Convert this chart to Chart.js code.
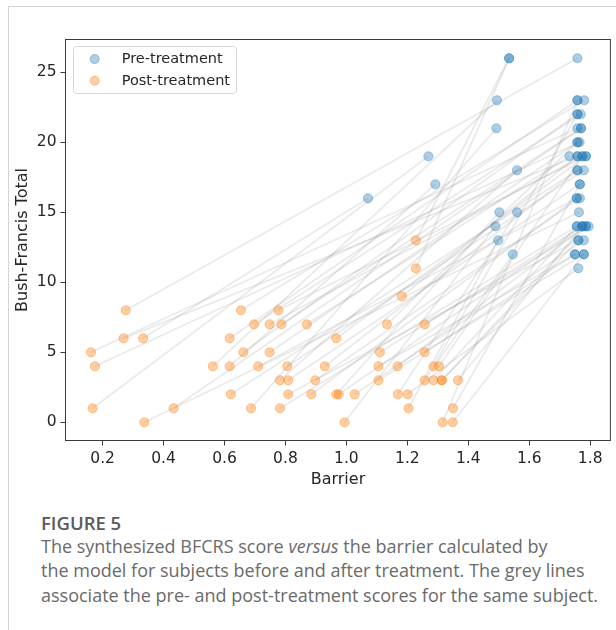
<!DOCTYPE html>
<html>
<head>
<meta charset="utf-8">
<script src="https://cdn.jsdelivr.net/npm/chart.js@4.4.1/dist/chart.umd.min.js"></script>
<style>
  html, body { margin: 0; padding: 0; background: #fff; width: 616px; height: 630px; overflow: hidden; }
  #frame { position: absolute; left: 8px; top: 6px; width: 700px; height: 700px;
           border-left: 1px solid #d4d4d4; border-top: 1px solid #d4d4d4; }
  #plot { position: absolute; left: 0; top: 0; }
  #fig { position: absolute; left: 41px; top: 509.5px; font: 600 18.5px "Open Sans", sans-serif; color: #5a5a5a; }
  #cap { position: absolute; left: 41px; top: 534px; font: 400 18px/24.3px "Open Sans", sans-serif;
         color: #6a6a6a; white-space: nowrap; }
</style>
</head>
<body>
<div id="frame"></div>
<canvas id="plot" width="616" height="505"></canvas>
<div id="fig">FIGURE 5</div>
<div id="cap">The synthesized BFCRS score <i>versus</i> the barrier calculated by<br>the model for subjects before and after treatment. The grey lines<br>associate the pre- and post-treatment scores for the same subject.</div>

<script>
// Per-subject values: barrier from the model and Bush-Francis total, before and after treatment
const preBarrier = [1.758, 1.765, 1.269, 1.758, 1.758, 1.071, 1.763, 1.770, 1.494, 1.758,
                    1.292, 1.758, 1.780, 1.758, 1.492, 1.769, 1.756, 1.774, 1.758, 1.786,
                    1.560, 1.756, 1.770, 1.779, 1.766, 1.761, 1.732, 1.756, 1.766, 1.758,
                    1.786, 1.502, 1.774, 1.489, 1.779, 1.750, 1.779, 1.774, 1.758, 1.786,
                    1.560, 1.758, 1.761, 1.498, 1.534, 1.534, 1.795, 1.750, 1.546, 1.758,
                    1.756, 1.774, 1.786, 1.761, 1.774, 1.758, 1.779, 1.766];
const preScore   = [21, 20, 19, 26, 19, 16, 15, 21, 23, 23,
                    17, 18, 23, 22, 21, 22, 16, 19, 20, 19,
                    18, 14, 21, 18, 17, 13, 19, 16, 16, 18,
                    19, 15, 14, 14, 13, 12, 12, 14, 20, 14,
                    15, 19, 11, 13, 26, 26, 14, 12, 12, 22,
                    14, 19, 14, 13, 14, 23, 12, 17];
const postBarrier = [0.162, 0.175, 0.167, 0.276, 0.269, 0.333, 0.337, 0.433, 0.562, 0.617,
                     0.617, 0.621, 0.654, 0.662, 0.687, 0.697, 0.711, 0.748, 0.748, 0.777,
                     0.782, 0.782, 0.787, 0.806, 0.809, 0.809, 0.870, 0.885, 0.898, 0.929,
                     0.967, 0.967, 0.975, 0.994, 1.027, 1.105, 1.105, 1.110, 1.133, 1.168,
                     1.169, 1.182, 1.201, 1.204, 1.228, 1.228, 1.257, 1.257, 1.257, 1.286,
                     1.286, 1.304, 1.313, 1.313, 1.366, 1.316, 1.349, 1.350];
const postScore   = [5, 4, 1, 8, 6, 6, 0, 1, 4, 6,
                     4, 2, 8, 5, 1, 7, 4, 7, 5, 8,
                     3, 1, 7, 4, 3, 2, 7, 2, 3, 4,
                     6, 2, 2, 0, 2, 4, 3, 5, 7, 4,
                     2, 9, 2, 1, 13, 11, 7, 5, 3, 4,
                     3, 4, 3, 3, 3, 0, 0, 1];

const xTicks = [0.2, 0.4, 0.6, 0.8, 1.0, 1.2, 1.4, 1.6, 1.8];
const yTicks = [0, 5, 10, 15, 20, 25];
const seriesNames = ['Pre-treatment', 'Post-treatment'];

const BLUE = 'rgba(31,119,180,0.36)';
const ORANGE = 'rgba(255,127,14,0.38)';
const TICK_FONT = { family: 'DejaVu Sans', size: 15.5 };
const INK = '#262626';

// grey segment joining each subject's two measurements
const pairLines = preBarrier.map((_, i) => ({
  data: [{ x: preBarrier[i], y: preScore[i] }, { x: postBarrier[i], y: postScore[i] }],
  showLine: true,
  borderColor: 'rgba(128,128,128,0.17)',
  borderWidth: 1.8,
  pointRadius: 0,
  order: 3
}));

const pointStyle = (color) => ({
  backgroundColor: color,
  borderColor: color,
  borderWidth: 1,
  pointRadius: 4.6,
  showLine: false
});

const preSet = Object.assign({
  label: seriesNames[0],
  data: preBarrier.map((x, i) => ({ x, y: preScore[i] })),
  order: 1
}, pointStyle(BLUE));

const postSet = Object.assign({
  label: seriesNames[1],
  data: postBarrier.map((x, i) => ({ x, y: postScore[i] })),
  order: 0
}, pointStyle(ORANGE));

// axes box and the legend in the upper-left corner
const framePlugin = {
  id: 'frameAndKey',
  afterDatasetsDraw(chart) {
    const { ctx, chartArea: a } = chart;
    ctx.save();
    ctx.strokeStyle = '#3a3a3a';
    ctx.lineWidth = 1;
    ctx.strokeRect(a.left, a.top, a.right - a.left, a.bottom - a.top);

    ctx.beginPath();
    ctx.roundRect(73.5, 46.5, 163, 47, 3);
    ctx.fillStyle = 'rgba(255,255,255,0.8)';
    ctx.fill();
    ctx.strokeStyle = '#d8d8d8';
    ctx.stroke();

    [BLUE, ORANGE].forEach((c, i) => {
      const y = 59 + i * 21.7;
      ctx.beginPath();
      ctx.arc(94.7, y, 4.6, 0, Math.PI * 2);
      ctx.fillStyle = c;
      ctx.fill();
      ctx.strokeStyle = c;
      ctx.stroke();
      ctx.fillStyle = INK;
      ctx.font = '14.5px "DejaVu Sans"';
      ctx.textBaseline = 'middle';
      ctx.fillText(seriesNames[i], 121.7, y + 0.5);
    });
    ctx.restore();
  }
};

new Chart(document.getElementById('plot'), {
  type: 'scatter',
  data: { datasets: [preSet, postSet, ...pairLines] },
  options: {
    responsive: false,
    animation: false,
    devicePixelRatio: 1,
    events: [],
    layout: { padding: { left: 0, right: 1.5, top: 39.5, bottom: 0 } },
    plugins: { legend: { display: false }, tooltip: { enabled: false } },
    scales: {
      x: {
        type: 'linear',
        min: 0.0783,
        max: 1.8663,
        afterBuildTicks: (s) => { s.ticks = xTicks.map(v => ({ value: v })); },
        afterFit: (s) => { s.height = 505 - 440.5; },
        grid: { drawOnChartArea: false, drawTicks: true, tickLength: 5, color: '#3a3a3a' },
        border: { display: false },
        ticks: { font: TICK_FONT, color: INK, padding: 4, maxRotation: 0,
                 callback: (v) => Number(v).toFixed(1) },
        title: { display: true, text: 'Barrier', color: INK,
                 font: { family: 'DejaVu Sans', size: 16 }, padding: { top: 0, bottom: 16 } }
      },
      y: {
        type: 'linear',
        min: -1.3,
        max: 27.34,
        afterBuildTicks: (s) => { s.ticks = yTicks.map(v => ({ value: v })); },
        afterFit: (s) => { s.width = 65.5; },
        grid: { drawOnChartArea: false, drawTicks: true, tickLength: 5, color: '#3a3a3a' },
        border: { display: false },
        ticks: { font: TICK_FONT, color: INK, padding: 4, callback: (v) => String(v) },
        title: { display: true, text: 'Bush-Francis Total', color: INK,
                 font: { family: 'DejaVu Sans', size: 16 }, padding: { top: 13, bottom: 0 } }
      }
    }
  },
  plugins: [framePlugin]
});
</script>
</body>
</html>
